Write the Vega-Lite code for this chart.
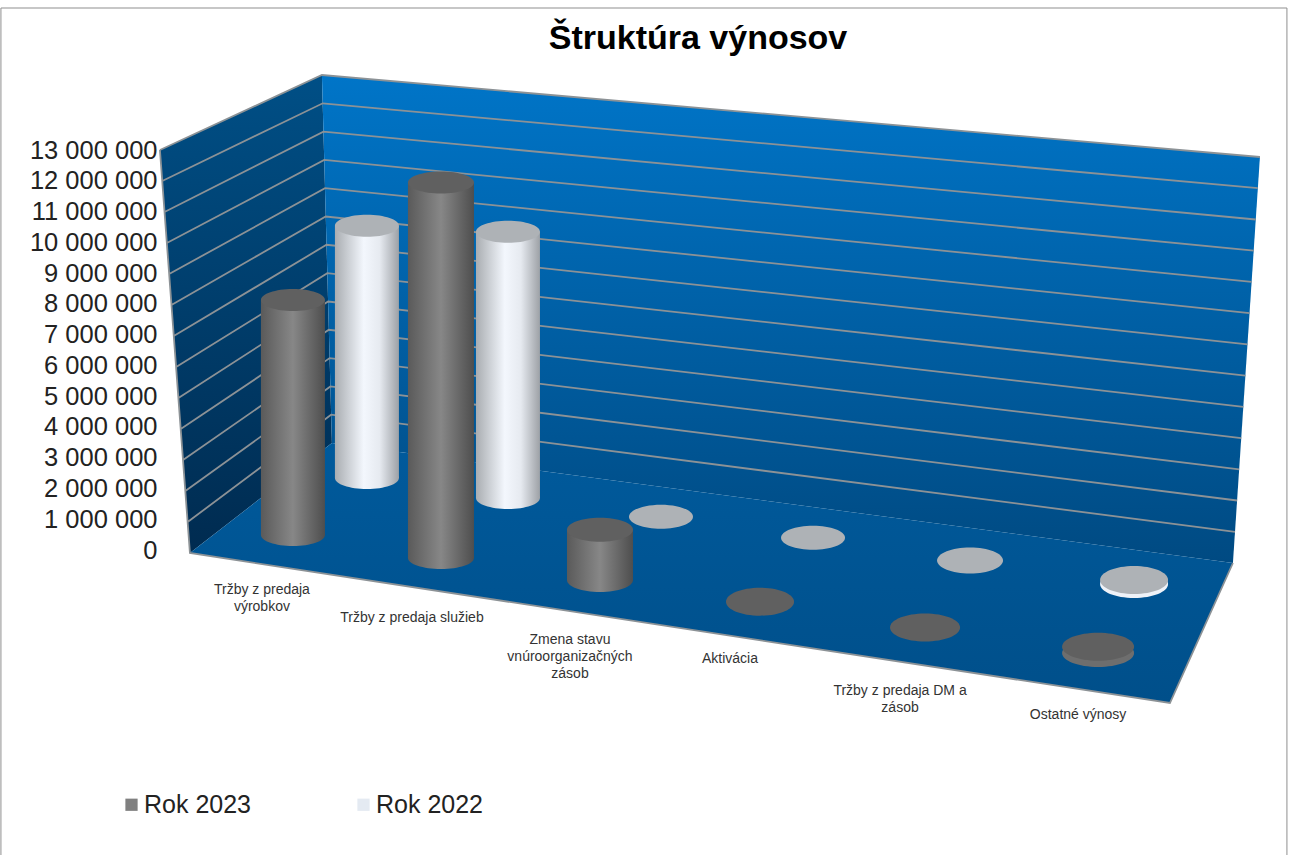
{"$schema":"https://vega.github.io/schema/vega-lite/v6.json","width":1100,"height":400,"autosize":"none","padding":{"left":160,"top":150,"right":30,"bottom":305},"background":"white","view":{"stroke":null},
"title":{"text":"Štruktúra výnosov","font":"Liberation Sans","fontSize":34,"fontWeight":"bold","color":"#000000","anchor":"middle","frame":"group","dx":-12,"offset":0,"dy":50},
"datasets":{"rows":[
{"category":"Tržby z predaja výrobkov","series":"Rok 2023","value":7640000,"slot":"A23"},
{"category":"Tržby z predaja výrobkov","series":"Rok 2022","value":8200000,"slot":"A22"},
{"category":"Tržby z predaja služieb","series":"Rok 2023","value":12200000,"slot":"B23"},
{"category":"Tržby z predaja služieb","series":"Rok 2022","value":8650000,"slot":"B22"},
{"category":"Zmena stavu vnúroorganizačných zásob","series":"Rok 2023","value":1630000,"slot":"C23"},
{"category":"Zmena stavu vnúroorganizačných zásob","series":"Rok 2022","value":10000,"slot":"C22"},
{"category":"Aktivácia","series":"Rok 2023","value":10000,"slot":"D23"},
{"category":"Aktivácia","series":"Rok 2022","value":10000,"slot":"D22"},
{"category":"Tržby z predaja DM a zásob","series":"Rok 2023","value":20000,"slot":"E23"},
{"category":"Tržby z predaja DM a zásob","series":"Rok 2022","value":20000,"slot":"E22"},
{"category":"Ostatné výnosy","series":"Rok 2023","value":200000,"slot":"F23"},
{"category":"Ostatné výnosy","series":"Rok 2022","value":130000,"slot":"F22"}],
"categoryLabels":[
{"category":"Tržby z predaja výrobkov","value":0,"label":"Tržby z predaja\nvýrobkov","slot":"LA"},
{"category":"Tržby z predaja služieb","value":0,"label":"Tržby z predaja služieb","slot":"LB"},
{"category":"Zmena stavu vnúroorganizačných zásob","value":0,"label":"Zmena stavu\nvnúroorganizačných\nzásob","slot":"LC"},
{"category":"Aktivácia","value":0,"label":"Aktivácia","slot":"LD"},
{"category":"Tržby z predaja DM a zásob","value":0,"label":"Tržby z predaja DM a\nzásob","slot":"LE"},
{"category":"Ostatné výnosy","value":0,"label":"Ostatné výnosy","slot":"LF"}],
"frameRows":[{"category":"Tržby z predaja výrobkov","value":0}]},
"data":{"name":"rows"},
"encoding":{
"x":{"field":"category","type":"nominal","axis":null,"sort":null,"scale":{"domain":["Tržby z predaja výrobkov","Tržby z predaja služieb","Zmena stavu vnúroorganizačných zásob","Aktivácia","Tržby z predaja DM a zásob","Ostatné výnosy"],"paddingInner":0,"paddingOuter":0.525}},
"y":{"field":"value","type":"quantitative","scale":{"domain":[0,13000000],"nice":false},"axis":{"title":null,"domain":false,"ticks":false,"grid":false,"values":[0,1000000,2000000,3000000,4000000,5000000,6000000,7000000,8000000,9000000,10000000,11000000,12000000,13000000],"labelExpr":"replace(format(datum.value,','),/,/g,' ')","labelFont":"Liberation Sans","labelFontSize":25.5,"labelColor":"#222222","labelPadding":3}}
},
"layer":[
{"data":{"name":"frameRows"},"mark":{"type":"point","size":4,"filled":false,"stroke":"#8f8f8f","strokeWidth":1,"opacity":1,"shape":"M-319,-542L967,-542L967,310L-319,310Z"}},
{"data":{"name":"frameRows"},"mark":{"type":"point","size":4,"filled":true,"opacity":1,"shape":"M-160,-400L2,-475L12,-107L-130,3Z","fill":{"gradient":"linear","x1":0,"y1":0,"x2":0,"y2":1,"stops":[{"offset":0,"color":"#004f86"},{"offset":1,"color":"#002b50"}]}}},
{"data":{"name":"frameRows"},"mark":{"type":"point","size":4,"filled":true,"opacity":1,"shape":"M2,-475L940,-393L913,13L12,-107Z","fill":{"gradient":"linear","x1":0,"y1":0,"x2":0,"y2":1,"stops":[{"offset":0,"color":"#0075c8"},{"offset":1,"color":"#004a82"}]}}},
{"data":{"name":"frameRows"},"mark":{"type":"point","size":4,"filled":true,"opacity":1,"shape":"M-130,3L12,-107L913,13L850,153Z","fill":{"gradient":"linear","x1":0,"y1":0,"x2":0,"y2":1,"stops":[{"offset":0,"color":"#005a9c"},{"offset":1,"color":"#004f8a"}]}}},
{"data":{"name":"frameRows"},"mark":{"type":"point","size":4,"filled":false,"stroke":"#8c9296","strokeWidth":1.8,"opacity":1,"shape":"M-132.3,-28L11.2,-135.3L915.1,-18.2M-134.6,-59L10.5,-163.6L917.2,-49.5M-136.9,-90L9.7,-191.9L919.2,-80.7M-139.2,-121L8.9,-220.2L921.3,-111.9M-141.5,-152L8.2,-248.5L923.4,-143.2M-143.8,-183L7.4,-276.8L925.5,-174.4M-146.2,-214L6.6,-305.2L927.5,-205.6M-148.5,-245L5.8,-333.5L929.6,-236.9M-150.8,-276L5.1,-361.8L931.7,-268.1M-153.1,-307L4.3,-390.1L933.8,-299.3M-155.4,-338L3.5,-418.4L935.8,-330.5M-157.7,-369L2.8,-446.7L937.9,-361.8M-160,-400L2,-475L940,-393M-160,-400L-130,3L850,153L913,13"}},
{"mark":{"type":"point","size":0,"filled":true,"opacity":1},"encoding":{"color":{"field":"series","type":"nominal","scale":{"domain":["Rok 2023","Rok 2022"],"range":["#808080","#e4eaf2"]},"legend":{"title":null,"orient":"none","legendX":-41,"legendY":642,"direction":"horizontal","columns":2,"symbolType":"square","symbolSize":150,"labelFont":"Liberation Sans","labelFontSize":25,"labelColor":"#222222","columnPadding":99,"labelOffset":0,"symbolStrokeWidth":0}}}},
{"transform":[{"filter":{"field":"slot","equal":"A22"}}],"layer":[
{"mark":{"type":"point","size":4,"filled":true,"opacity":1,"xOffset":47,"yOffset":-72,"shape":"M-32,0A32,11,0,1,1,32,0A32,11,0,1,1,-32,0Z","fill":{"gradient":"linear","x1":0,"y1":0,"x2":1,"y2":0,"stops":[{"offset":0,"color":"#a9adb1"},{"offset":0.45,"color":"#f3f7fd"},{"offset":0.7,"color":"#e6eaf0"},{"offset":1,"color":"#9da1a6"}]}},"encoding":{"y":{"datum":0}}},
{"mark":{"type":"bar","width":64,"xOffset":47,"yOffset":-72,"y2Offset":-72,"fill":{"gradient":"linear","x1":0,"y1":0,"x2":1,"y2":0,"stops":[{"offset":0,"color":"#a9adb1"},{"offset":0.45,"color":"#f3f7fd"},{"offset":0.7,"color":"#e6eaf0"},{"offset":1,"color":"#9da1a6"}]}},"encoding":{"y2":{"datum":0}}},
{"mark":{"type":"point","size":4,"filled":true,"opacity":1,"xOffset":47,"yOffset":-72,"fill":"#aeb2b6","shape":"M-32,0A32,11,0,1,1,32,0A32,11,0,1,1,-32,0Z"}}
]},
{"transform":[{"filter":{"field":"slot","equal":"B22"}}],"layer":[
{"mark":{"type":"point","size":4,"filled":true,"opacity":1,"xOffset":32,"yOffset":-52,"shape":"M-32,0A32,11,0,1,1,32,0A32,11,0,1,1,-32,0Z","fill":{"gradient":"linear","x1":0,"y1":0,"x2":1,"y2":0,"stops":[{"offset":0,"color":"#a9adb1"},{"offset":0.45,"color":"#f3f7fd"},{"offset":0.7,"color":"#e6eaf0"},{"offset":1,"color":"#9da1a6"}]}},"encoding":{"y":{"datum":0}}},
{"mark":{"type":"bar","width":64,"xOffset":32,"yOffset":-52,"y2Offset":-52,"fill":{"gradient":"linear","x1":0,"y1":0,"x2":1,"y2":0,"stops":[{"offset":0,"color":"#a9adb1"},{"offset":0.45,"color":"#f3f7fd"},{"offset":0.7,"color":"#e6eaf0"},{"offset":1,"color":"#9da1a6"}]}},"encoding":{"y2":{"datum":0}}},
{"mark":{"type":"point","size":4,"filled":true,"opacity":1,"xOffset":32,"yOffset":-52,"fill":"#aeb2b6","shape":"M-32,0A32,11,0,1,1,32,0A32,11,0,1,1,-32,0Z"}}
]},
{"transform":[{"filter":{"field":"slot","equal":"C22"}}],"mark":{"type":"point","size":4,"filled":true,"opacity":1,"xOffset":29,"yOffset":-33,"fill":"#aeb2b6","shape":"M-32,0A32,12,0,1,1,32,0A32,12,0,1,1,-32,0Z"}},
{"transform":[{"filter":{"field":"slot","equal":"D22"}}],"mark":{"type":"point","size":4,"filled":true,"opacity":1,"xOffset":25,"yOffset":-12,"fill":"#aeb2b6","shape":"M-32,0A32,12,0,1,1,32,0A32,12,0,1,1,-32,0Z"}},
{"transform":[{"filter":{"field":"slot","equal":"E22"}}],"mark":{"type":"point","size":4,"filled":true,"opacity":1,"xOffset":26,"yOffset":11,"fill":"#aeb2b6","shape":"M-33,0A33,13,0,1,1,33,0A33,13,0,1,1,-33,0Z"}},
{"transform":[{"filter":{"field":"slot","equal":"F22"}}],"layer":[
{"mark":{"type":"point","size":4,"filled":true,"opacity":1,"xOffset":34,"yOffset":34,"fill":"#eef2f8","shape":"M-34,0A34,14,0,1,1,34,0A34,14,0,1,1,-34,0Z"},"encoding":{"y":{"datum":0}}},
{"mark":{"type":"point","size":4,"filled":true,"opacity":1,"xOffset":34,"yOffset":34,"fill":"#aeb2b6","shape":"M-34,0A34,14,0,1,1,34,0A34,14,0,1,1,-34,0Z"}}
]},
{"transform":[{"filter":{"field":"slot","equal":"A23"}}],"layer":[
{"mark":{"type":"point","size":4,"filled":true,"opacity":1,"xOffset":-27,"yOffset":-15,"shape":"M-32,0A32,11,0,1,1,32,0A32,11,0,1,1,-32,0Z","fill":{"gradient":"linear","x1":0,"y1":0,"x2":1,"y2":0,"stops":[{"offset":0,"color":"#5a5a5a"},{"offset":0.5,"color":"#878787"},{"offset":1,"color":"#4e4e4e"}]}},"encoding":{"y":{"datum":0}}},
{"mark":{"type":"bar","width":64,"xOffset":-27,"yOffset":-15,"y2Offset":-15,"fill":{"gradient":"linear","x1":0,"y1":0,"x2":1,"y2":0,"stops":[{"offset":0,"color":"#5a5a5a"},{"offset":0.5,"color":"#878787"},{"offset":1,"color":"#4e4e4e"}]}},"encoding":{"y2":{"datum":0}}},
{"mark":{"type":"point","size":4,"filled":true,"opacity":1,"xOffset":-27,"yOffset":-15,"fill":"#606060","shape":"M-32,0A32,11,0,1,1,32,0A32,11,0,1,1,-32,0Z"}}
]},
{"transform":[{"filter":{"field":"slot","equal":"B23"}}],"layer":[
{"mark":{"type":"point","size":4,"filled":true,"opacity":1,"xOffset":-35,"yOffset":8,"shape":"M-33,0A33,11,0,1,1,33,0A33,11,0,1,1,-33,0Z","fill":{"gradient":"linear","x1":0,"y1":0,"x2":1,"y2":0,"stops":[{"offset":0,"color":"#5a5a5a"},{"offset":0.5,"color":"#878787"},{"offset":1,"color":"#4e4e4e"}]}},"encoding":{"y":{"datum":0}}},
{"mark":{"type":"bar","width":66,"xOffset":-35,"yOffset":8,"y2Offset":8,"fill":{"gradient":"linear","x1":0,"y1":0,"x2":1,"y2":0,"stops":[{"offset":0,"color":"#5a5a5a"},{"offset":0.5,"color":"#878787"},{"offset":1,"color":"#4e4e4e"}]}},"encoding":{"y2":{"datum":0}}},
{"mark":{"type":"point","size":4,"filled":true,"opacity":1,"xOffset":-35,"yOffset":8,"fill":"#606060","shape":"M-33,0A33,11,0,1,1,33,0A33,11,0,1,1,-33,0Z"}}
]},
{"transform":[{"filter":{"field":"slot","equal":"C23"}}],"layer":[
{"mark":{"type":"point","size":4,"filled":true,"opacity":1,"xOffset":-32,"yOffset":30,"shape":"M-33,0A33,12,0,1,1,33,0A33,12,0,1,1,-33,0Z","fill":{"gradient":"linear","x1":0,"y1":0,"x2":1,"y2":0,"stops":[{"offset":0,"color":"#5a5a5a"},{"offset":0.5,"color":"#878787"},{"offset":1,"color":"#4e4e4e"}]}},"encoding":{"y":{"datum":0}}},
{"mark":{"type":"bar","width":66,"xOffset":-32,"yOffset":30,"y2Offset":30,"fill":{"gradient":"linear","x1":0,"y1":0,"x2":1,"y2":0,"stops":[{"offset":0,"color":"#5a5a5a"},{"offset":0.5,"color":"#878787"},{"offset":1,"color":"#4e4e4e"}]}},"encoding":{"y2":{"datum":0}}},
{"mark":{"type":"point","size":4,"filled":true,"opacity":1,"xOffset":-32,"yOffset":30,"fill":"#606060","shape":"M-33,0A33,12,0,1,1,33,0A33,12,0,1,1,-33,0Z"}}
]},
{"transform":[{"filter":{"field":"slot","equal":"D23"}}],"mark":{"type":"point","size":4,"filled":true,"opacity":1,"xOffset":-28,"yOffset":52,"fill":"#606060","shape":"M-34,0A34,14,0,1,1,34,0A34,14,0,1,1,-34,0Z"}},
{"transform":[{"filter":{"field":"slot","equal":"E23"}}],"mark":{"type":"point","size":4,"filled":true,"opacity":1,"xOffset":-19,"yOffset":78,"fill":"#606060","shape":"M-35,0A35,14,0,1,1,35,0A35,14,0,1,1,-35,0Z"}},
{"transform":[{"filter":{"field":"slot","equal":"F23"}}],"layer":[
{"mark":{"type":"point","size":4,"filled":true,"opacity":1,"xOffset":-2,"yOffset":103,"fill":"#6e6e6e","shape":"M-36,0A36,14,0,1,1,36,0A36,14,0,1,1,-36,0Z"},"encoding":{"y":{"datum":0}}},
{"mark":{"type":"point","size":4,"filled":true,"opacity":1,"xOffset":-2,"yOffset":103,"fill":"#606060","shape":"M-36,0A36,14,0,1,1,36,0A36,14,0,1,1,-36,0Z"}}
]},
{"data":{"name":"categoryLabels"},"transform":[{"filter":{"field":"slot","equal":"LA"}}],"mark":{"type":"text","font":"Liberation Sans","fontSize":14,"fill":"#333333","lineBreak":"\n","lineHeight":17,"align":"center","baseline":"top","xOffset":-58,"yOffset":33},"encoding":{"text":{"field":"label","type":"nominal"}}},
{"data":{"name":"categoryLabels"},"transform":[{"filter":{"field":"slot","equal":"LB"}}],"mark":{"type":"text","font":"Liberation Sans","fontSize":14,"fill":"#333333","lineBreak":"\n","lineHeight":17,"align":"center","baseline":"top","xOffset":-64,"yOffset":61},"encoding":{"text":{"field":"label","type":"nominal"}}},
{"data":{"name":"categoryLabels"},"transform":[{"filter":{"field":"slot","equal":"LC"}}],"mark":{"type":"text","font":"Liberation Sans","fontSize":14,"fill":"#333333","lineBreak":"\n","lineHeight":17,"align":"center","baseline":"top","xOffset":-62,"yOffset":83},"encoding":{"text":{"field":"label","type":"nominal"}}},
{"data":{"name":"categoryLabels"},"transform":[{"filter":{"field":"slot","equal":"LD"}}],"mark":{"type":"text","font":"Liberation Sans","fontSize":14,"fill":"#333333","lineBreak":"\n","lineHeight":17,"align":"center","baseline":"top","xOffset":-58,"yOffset":102},"encoding":{"text":{"field":"label","type":"nominal"}}},
{"data":{"name":"categoryLabels"},"transform":[{"filter":{"field":"slot","equal":"LE"}}],"mark":{"type":"text","font":"Liberation Sans","fontSize":14,"fill":"#333333","lineBreak":"\n","lineHeight":17,"align":"center","baseline":"top","xOffset":-44,"yOffset":134},"encoding":{"text":{"field":"label","type":"nominal"}}},
{"data":{"name":"categoryLabels"},"transform":[{"filter":{"field":"slot","equal":"LF"}}],"mark":{"type":"text","font":"Liberation Sans","fontSize":14,"fill":"#333333","lineBreak":"\n","lineHeight":17,"align":"center","baseline":"top","xOffset":-22,"yOffset":158},"encoding":{"text":{"field":"label","type":"nominal"}}}
]}
